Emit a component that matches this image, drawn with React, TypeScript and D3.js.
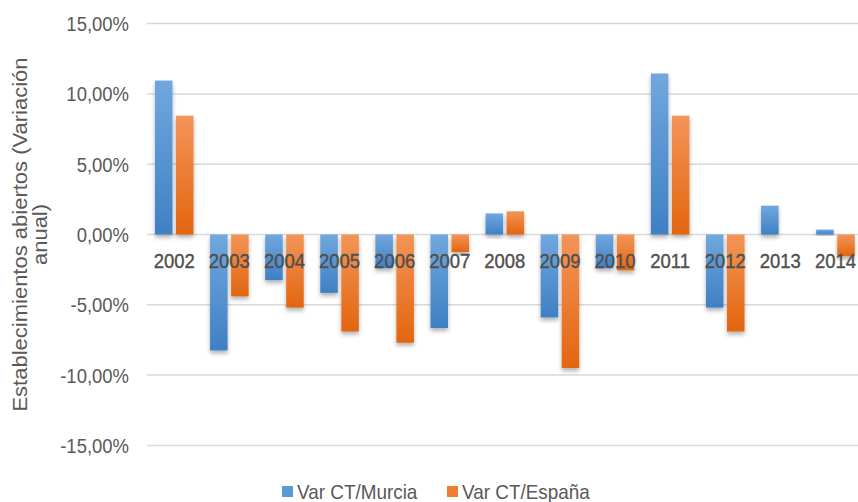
import React from 'react';
import * as d3 from 'd3';

const years = ['2002', '2003', '2004', '2005', '2006', '2007', '2008', '2009', '2010', '2011', '2012', '2013', '2014'];
const murcia = [10.95, -8.25, -3.25, -4.15, -2.4, -6.65, 1.5, -5.9, -2.4, 11.45, -5.2, 2.05, 0.35];
const espana = [8.45, -4.4, -5.2, -6.9, -7.7, -1.25, 1.65, -9.5, -2.55, 8.45, -6.9, 0, -1.55];
const yTicks = [-15, -10, -5, 0, 5, 10, 15];
const seriesNames = ['Var CT/Murcia', 'Var CT/España'];

const W = 858;
const H = 502;
const SX = 0.88; // text looks squeezed horizontally in the reference
const textColor = '#595959';
const font = '"Liberation Sans", Arial, sans-serif';

const App = () => {
  const x = d3.scaleBand<string>()
    .domain(years)
    .range([146.7, 863])
    .paddingInner(0.3)
    .paddingOuter(0.15);

  const xs = d3.scaleBand<string>()
    .domain(['m', 'e'])
    .range([0, x.bandwidth()])
    .paddingInner(0.167);

  const y = d3.scaleLinear()
    .domain([-15, 15])
    .range([445.4, 23.6]);

  const fmt = (v: number) => v.toFixed(2).replace('.', ',') + '%';

  const bars = (vals: number[], key: string, grad: string) =>
    vals.map((v, i) => {
      if (v === 0) return null;
      const top = y(Math.max(0, v));
      const h = Math.abs(y(v) - y(0));
      return (
        <rect
          key={key + i}
          x={(x(years[i]) as number) + (xs(key) as number)}
          y={top}
          width={xs.bandwidth()}
          height={h}
          fill={`url(#${grad})`}
          filter="url(#shadow)"
        />
      );
    });

  return (
    <div style={{ position: 'absolute', left: 0, top: 0 }}>
      <svg width={W} height={H} style={{ display: 'block', background: '#fff' }} fontFamily={font}>
        <defs>
          <linearGradient id="gBlue" x1="0" y1="0" x2="0" y2="1">
            <stop offset="0%" stopColor="#71a7de" />
            <stop offset="100%" stopColor="#3f80c4" />
          </linearGradient>
          <linearGradient id="gOrange" x1="0" y1="0" x2="0" y2="1">
            <stop offset="0%" stopColor="#f49458" />
            <stop offset="100%" stopColor="#e2660f" />
          </linearGradient>
          <filter id="shadow" x="-30%" y="-10%" width="160%" height="130%">
            <feDropShadow dx="0" dy="3" stdDeviation="2" floodColor="#000" floodOpacity="0.3" />
          </filter>
        </defs>

        {yTicks.map(t => (
          <g key={t}>
            <line x1={147} x2={W} y1={y(t)} y2={y(t)} stroke="#d9d9d9" strokeWidth={1.5} />
            <text
              transform={`translate(129,${y(t)}) scale(${SX},1)`}
              textAnchor="end"
              dominantBaseline="central"
              fontSize={21}
              fill={textColor}
            >
              {fmt(t)}
            </text>
          </g>
        ))}

        {bars(murcia, 'm', 'gBlue')}
        {bars(espana, 'e', 'gOrange')}

        {years.map(yr => (
          <text
            key={yr}
            transform={`translate(${(x(yr) as number) + x.bandwidth() / 2},268) scale(${SX},1)`}
            textAnchor="middle"
            fontSize={21}
            fill="#4f4f4f"
            stroke="#4f4f4f"
            strokeWidth={0.4}
          >
            {yr}
          </text>
        ))}

        <g fontSize={22} fill={textColor} textAnchor="middle">
          <text transform={`translate(27,${y(0)}) scale(${SX},1) rotate(-90)`}>
            Establecimientos abiertos (Variación
          </text>
          <text transform={`translate(47,${y(0)}) scale(${SX},1) rotate(-90)`}>
            anual)
          </text>
        </g>

        <g>
          <rect x={282} y={486} width={11} height={11} fill="#5b9bd5" />
          <text transform={`translate(297,499) scale(0.9,1)`} fontSize={21} fill={textColor}>
            {seriesNames[0]}
          </text>
          <rect x={447} y={486} width={11} height={11} fill="#ed7d31" />
          <text transform={`translate(462,499) scale(0.9,1)`} fontSize={21} fill={textColor}>
            {seriesNames[1]}
          </text>
        </g>
      </svg>
    </div>
  );
};

export default App;
